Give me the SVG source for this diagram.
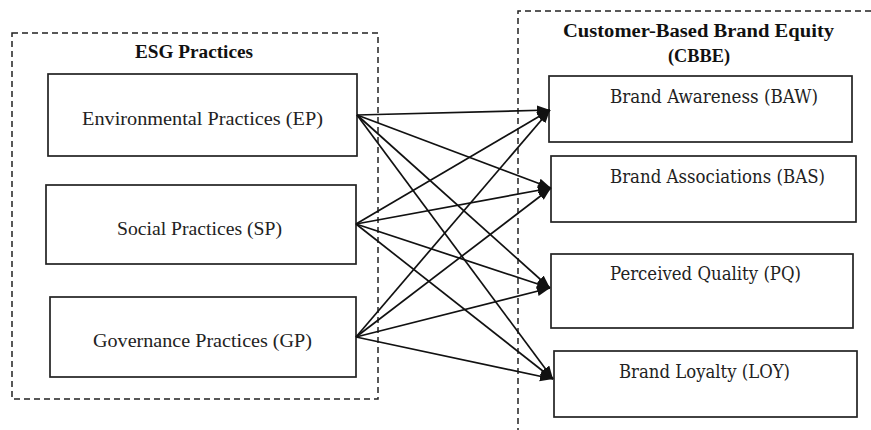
<svg xmlns="http://www.w3.org/2000/svg" width="871" height="430" viewBox="0 0 871 430">
  <style>
    .box { fill: #fff; stroke: #222; stroke-width: 1.7; }
    .group { fill: none; stroke: #222; stroke-width: 1.5; stroke-dasharray: 6 4; }
    .title { font-family: "Liberation Serif", "Times New Roman", serif; font-weight: bold; font-size: 18.5px; fill: #111; }
    .lbl-l { font-family: "Liberation Serif", "Times New Roman", serif; font-size: 19.5px; fill: #222; text-anchor: middle; }
    .lbl-r { font-family: "DejaVu Serif", "Liberation Serif", serif; font-size: 18.5px; fill: #222; }
    .link { stroke: #111; stroke-width: 1.7; fill: none; marker-end: url(#head); }
  </style>
  <defs>
    <marker id="head" markerUnits="userSpaceOnUse" markerWidth="14" markerHeight="12" refX="13" refY="5" orient="auto">
      <path d="M0,0 L13,5 L0,10 z" fill="#111"/>
    </marker>
  </defs>
  <rect width="871" height="430" fill="#fff"/>

  <!-- dashed grouping frames -->
  <g id="esg-group">
    <rect class="group" x="12" y="33" width="366" height="366"/>
    <text class="title" x="194" y="58" text-anchor="middle" textLength="118" lengthAdjust="spacingAndGlyphs">ESG Practices</text>
  </g>
  <g id="cbbe-group">
    <path class="group" d="M871 11 H518 V430"/>
    <text class="title" x="698.5" y="37" text-anchor="middle" textLength="271" lengthAdjust="spacingAndGlyphs">Customer-Based Brand Equity</text>
    <text class="title" x="699" y="62" text-anchor="middle" textLength="62" lengthAdjust="spacingAndGlyphs">(CBBE)</text>
  </g>

  <!-- ESG practice nodes -->
  <g id="node-ep">
    <rect class="box" x="48" y="74" width="309" height="82"/>
    <text class="lbl-l" x="202.5" y="125" textLength="241" lengthAdjust="spacingAndGlyphs">Environmental Practices (EP)</text>
  </g>
  <g id="node-sp">
    <rect class="box" x="46" y="185" width="310" height="79"/>
    <text class="lbl-l" x="199.5" y="235" textLength="165" lengthAdjust="spacingAndGlyphs">Social Practices (SP)</text>
  </g>
  <g id="node-gp">
    <rect class="box" x="50" y="297" width="306" height="80"/>
    <text class="lbl-l" x="202.5" y="347" textLength="219" lengthAdjust="spacingAndGlyphs">Governance Practices (GP)</text>
  </g>

  <!-- CBBE dimension nodes -->
  <g id="node-baw">
    <rect class="box" x="549" y="76" width="303" height="66"/>
    <text class="lbl-r" x="610" y="103" textLength="208" lengthAdjust="spacingAndGlyphs">Brand Awareness (BAW)</text>
  </g>
  <g id="node-bas">
    <rect class="box" x="551" y="156" width="305" height="66"/>
    <text class="lbl-r" x="610" y="183" textLength="215" lengthAdjust="spacingAndGlyphs">Brand Associations (BAS)</text>
  </g>
  <g id="node-pq">
    <rect class="box" x="551" y="254" width="302" height="74"/>
    <text class="lbl-r" x="610" y="280" textLength="191" lengthAdjust="spacingAndGlyphs">Perceived Quality (PQ)</text>
  </g>
  <g id="node-loy">
    <rect class="box" x="554" y="351" width="303" height="66"/>
    <text class="lbl-r" x="619" y="378" textLength="171" lengthAdjust="spacingAndGlyphs">Brand Loyalty (LOY)</text>
  </g>

  <!-- every practice links to every CBBE dimension -->
  <g id="connectors">
    <line class="link" x1="357" y1="115" x2="550" y2="110"/>
    <line class="link" x1="357" y1="115" x2="551" y2="188"/>
    <line class="link" x1="357" y1="115" x2="550" y2="288"/>
    <line class="link" x1="357" y1="115" x2="553" y2="379"/>

    <line class="link" x1="356" y1="224" x2="550" y2="110"/>
    <line class="link" x1="356" y1="224" x2="551" y2="188"/>
    <line class="link" x1="356" y1="224" x2="550" y2="288"/>
    <line class="link" x1="356" y1="224" x2="553" y2="379"/>

    <line class="link" x1="356" y1="337" x2="550" y2="110"/>
    <line class="link" x1="356" y1="337" x2="551" y2="188"/>
    <line class="link" x1="356" y1="337" x2="550" y2="288"/>
    <line class="link" x1="356" y1="337" x2="553" y2="379"/>
  </g>
</svg>
